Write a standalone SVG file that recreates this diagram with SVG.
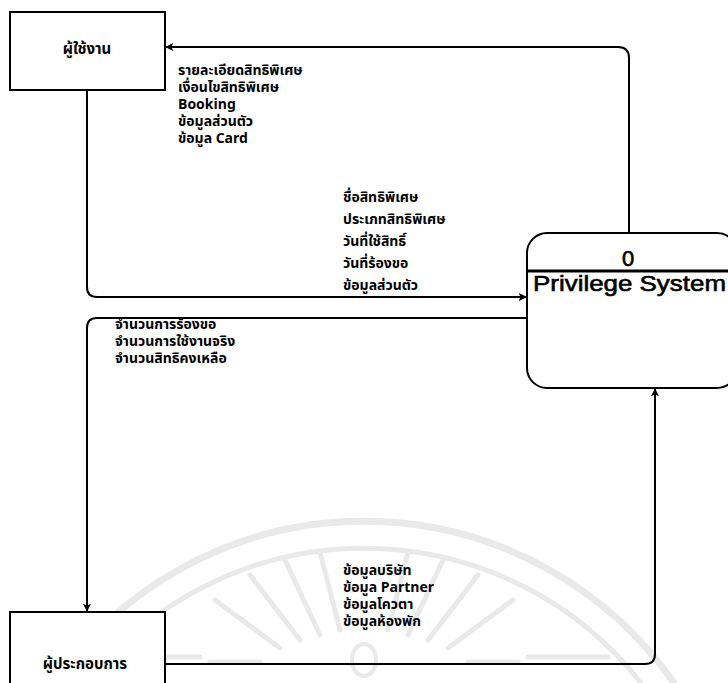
<svg xmlns="http://www.w3.org/2000/svg" width="728" height="683" viewBox="0 0 728 683">
  <style>
    .box { fill: #fff; stroke: #000; stroke-width: 2; }
    .flow { fill: none; stroke: #000; stroke-width: 2; }
    .lbl { font-family: "Noto Sans Thai", "Liberation Sans", "DejaVu Sans", sans-serif; font-size: 14px; font-weight: bold; fill: #000; }
    .name { font-family: "Noto Sans Thai", "Liberation Sans", "DejaVu Sans", sans-serif; font-size: 15px; font-weight: bold; fill: #000; }
    .proc { font-family: "Liberation Sans", Arial, sans-serif; fill: #000; stroke: #000; stroke-width: 0.6; }
    .wm { fill: none; stroke: #e9e9e9; stroke-linecap: round; }
  </style>
  <defs>
    <marker id="arrow" viewBox="0 0 10 10" refX="9" refY="5" markerWidth="8" markerHeight="8" orient="auto" markerUnits="userSpaceOnUse">
      <path d="M0,0 L10,5 L0,10 L2,5 z" fill="#000"/>
    </marker>
  </defs>

  <rect width="728" height="683" fill="#fff"/>

  <!-- faint background emblem -->
  <g id="emblem">
    <path class="wm" stroke-width="7" d="M54,683 A378,378 0 0 1 674,683"/>
    <path class="wm" stroke-width="5" d="M87,683 A352,352 0 0 1 641,683"/>
    <g class="wm" stroke-width="5">
      <line x1="250" y1="575" x2="300" y2="640"/>
      <line x1="285" y1="560" x2="320" y2="635"/>
      <line x1="320" y1="552" x2="340" y2="630"/>
      <line x1="408" y1="552" x2="388" y2="630"/>
      <line x1="443" y1="560" x2="408" y2="635"/>
      <line x1="478" y1="575" x2="428" y2="640"/>
      <line x1="215" y1="600" x2="280" y2="648"/>
      <line x1="513" y1="600" x2="448" y2="648"/>
      <line x1="120" y1="657" x2="200" y2="657"/>
      <line x1="528" y1="657" x2="608" y2="657"/>
      <line x1="210" y1="662" x2="260" y2="662"/>
      <line x1="468" y1="662" x2="518" y2="662"/>
    </g>
    <ellipse class="wm" stroke-width="4" cx="364" cy="660" rx="12" ry="16"/>
  </g>

  <!-- data flows -->
  <g id="flows">
    <!-- Privilege System -> user -->
    <path class="flow" d="M629,233 V58 Q629,47 618,47 H166" marker-end="url(#arrow)"/>
    <!-- user -> Privilege System -->
    <path class="flow" d="M87,90 V287 Q87,297 97,297 H526" marker-end="url(#arrow)"/>
    <!-- Privilege System -> operator -->
    <path class="flow" d="M527,318 H97 Q87,318 87,328 V611" marker-end="url(#arrow)"/>
    <!-- operator -> Privilege System -->
    <path class="flow" d="M165,664 H645 Q655,664 655,654 V389" marker-end="url(#arrow)"/>
  </g>

  <!-- flow labels -->
  <g id="labels">
    <text class="lbl" x="178" y="75">รายละเอียดสิทธิพิเศษ</text>
    <text class="lbl" x="178" y="92">เงื่อนไขสิทธิพิเศษ</text>
    <text class="lbl" x="178" y="109">Booking</text>
    <text class="lbl" x="178" y="126">ข้อมูลส่วนตัว</text>
    <text class="lbl" x="178" y="143">ข้อมูล Card</text>

    <text class="lbl" x="343" y="202">ชื่อสิทธิพิเศษ</text>
    <text class="lbl" x="343" y="224">ประเภทสิทธิพิเศษ</text>
    <text class="lbl" x="343" y="246">วันที่ใช้สิทธิ์</text>
    <text class="lbl" x="343" y="268">วันที่ร้องขอ</text>
    <text class="lbl" x="343" y="290">ข้อมูลส่วนตัว</text>

    <text class="lbl" x="115" y="329">จำนวนการร้องขอ</text>
    <text class="lbl" x="115" y="346">จำนวนการใช้งานจริง</text>
    <text class="lbl" x="115" y="363">จำนวนสิทธิคงเหลือ</text>

    <text class="lbl" x="343" y="575">ข้อมูลบริษัท</text>
    <text class="lbl" x="343" y="592">ข้อมูล Partner</text>
    <text class="lbl" x="343" y="609">ข้อมูลโควตา</text>
    <text class="lbl" x="343" y="626">ข้อมูลห้องพัก</text>
  </g>

  <!-- external entity: user -->
  <g id="user">
    <rect class="box" x="10" y="12" width="155" height="78"/>
    <text class="name" x="87" y="54" text-anchor="middle">ผู้ใช้งาน</text>
  </g>

  <!-- external entity: operator -->
  <g id="operator">
    <rect class="box" x="10" y="612" width="155" height="80"/>
    <text class="name" x="85" y="669" text-anchor="middle">ผู้ประกอบการ</text>
  </g>

  <!-- process 0 -->
  <g id="privilege-system">
    <rect class="box" x="527" y="233" width="210" height="155" rx="20" ry="20" stroke-width="3"/>
    <line x1="527" y1="271" x2="737" y2="271" stroke="#000" stroke-width="3"/>
    <text class="proc" x="628" y="266" text-anchor="middle" font-size="22">0</text>
    <text class="proc" x="533" y="291" font-size="22" textLength="193" lengthAdjust="spacingAndGlyphs">Privilege System</text>
  </g>
</svg>
